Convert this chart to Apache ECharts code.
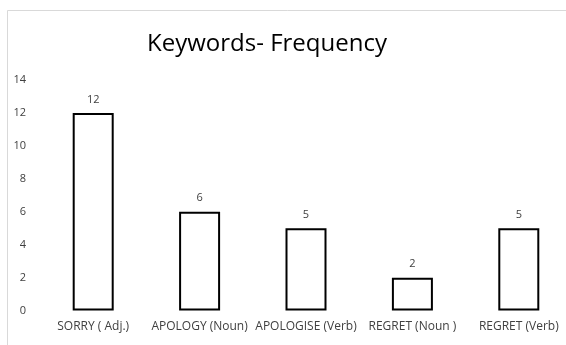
<!DOCTYPE html>
<html>
<head>
<meta charset="utf-8">
<style>
  html, body { margin: 0; padding: 0; background: #fff; }
  #chart { width: 566px; height: 345px; }
</style>
<script src="https://cdn.jsdelivr.net/npm/echarts@6/dist/echarts.min.js"></script>
</head>
<body>
<div id="chart"></div>
<script>
// Keyword categories and their counts
const categories = ['SORRY ( Adj.)', 'APOLOGY (Noun)', 'APOLOGISE (Verb)', 'REGRET (Noun )', 'REGRET (Verb)'];
const frequency = [12, 6, 5, 2, 5];
const yTicks = [0, 2, 4, 6, 8, 10, 12, 14];

const chart = echarts.init(document.getElementById('chart'), null, { renderer: 'canvas' });
const labelFont = '"Open Sans", "Noto Sans", sans-serif';

chart.setOption({
  animation: false,
  backgroundColor: '#ffffff',
  title: {
    text: 'Keywords- Frequency',
    left: 262,
    top: 27,
    textAlign: 'center',
    textStyle: { fontFamily: labelFont, fontSize: 24, fontWeight: 'normal', color: '#000' }
  },
  graphic: [{
    type: 'rect',
    shape: { x: 7.5, y: 10.5, width: 600, height: 400 },
    style: { fill: 'none', stroke: '#d9d9d9', lineWidth: 1 },
    silent: true
  }],
  grid: { left: 40, top: 80, width: 532, height: 230.6, containLabel: false, outerBoundsMode: 'none' },
  xAxis: {
    type: 'category',
    data: categories,
    axisLine: { show: false },
    axisTick: { show: false },
    axisLabel: { interval: 0, margin: 10, fontFamily: labelFont, fontSize: 12, color: '#404040' }
  },
  yAxis: {
    type: 'value',
    min: yTicks[0],
    max: yTicks[yTicks.length - 1],
    interval: 2,
    splitLine: { show: false },
    axisLine: { show: false },
    axisTick: { show: false },
    axisLabel: { margin: 14, fontFamily: labelFont, fontSize: 11, color: '#404040' }
  },
  series: [{
    type: 'bar',
    data: frequency,
    barWidth: 41,
    itemStyle: { color: '#ffffff', borderColor: '#000000', borderWidth: 2 },
    label: {
      show: true,
      position: 'top',
      distance: 8,
      fontFamily: labelFont,
      fontSize: 11,
      color: '#404040'
    }
  }]
});
</script>
</body>
</html>
